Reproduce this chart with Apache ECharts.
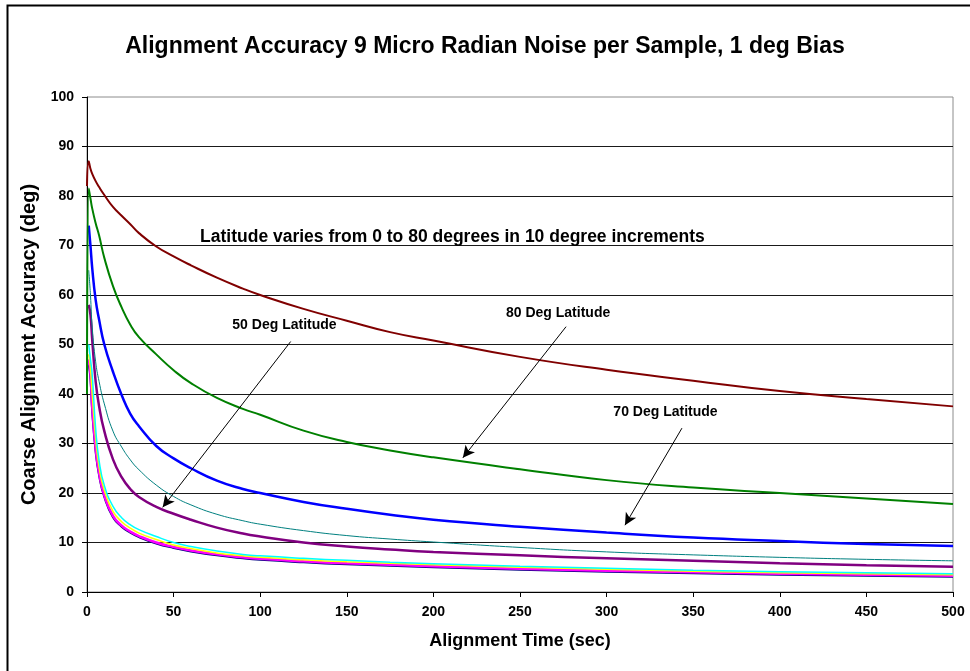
<!DOCTYPE html>
<html>
<head>
<meta charset="utf-8">
<script src="https://cdn.jsdelivr.net/npm/echarts@6/dist/echarts.min.js"></script>
<style>
html,body{margin:0;padding:0;background:#fff;}
#chart{width:970px;height:671px;}
</style>
</head>
<body>
<div id="chart"></div>
<script>
// Alignment time (sec)
const times = [1,2,3,5,7,10,15,20,25,30,40,50,60,75,90,100,125,150,175,200,250,300,350,400,450,500];

// Coarse alignment accuracy (deg) per latitude curve
const lat00 = [46,43,36.5,28.3,23.5,19.2,15.1,13.2,12,11.1,9.8,8.9,8.2,7.4,6.8,6.5,6.0,5.6,5.3,5.0,4.5,4.1,3.8,3.5,3.3,3.1];
const lat10 = [47,44,37.5,29,24,19.5,15.4,13.4,12.2,11.3,10,9.1,8.4,7.6,7.0,6.7,6.2,5.8,5.5,5.2,4.7,4.3,4.0,3.7,3.5,3.3];
const lat20 = [48,45,40,31,25.2,20.5,16.3,14.2,12.9,11.9,10.6,9.5,8.8,7.9,7.3,7.0,6.5,6.1,5.8,5.5,5.0,4.6,4.2,3.9,3.7,3.5];
const lat30 = [50,47,44,33,26.5,21.5,17.3,15,13.6,12.6,11.2,10,9.2,8.3,7.6,7.3,6.8,6.4,6.0,5.7,5.2,4.8,4.4,4.1,3.9,3.7];
const lat40 = [58,56,51,42.5,37.5,32.5,26.8,23.2,20.8,19.2,17.2,15.8,14.6,13,11.8,11.2,10,9.2,8.6,8.1,7.4,6.8,6.3,5.8,5.4,5.1];
const lat50 = [65,60,53.5,46.5,42.5,38,32.5,29.3,26.7,24.7,21.6,19.3,17.6,15.7,14.4,13.7,12.4,11.4,10.7,10.1,9.0,8.1,7.5,7.0,6.6,6.3];
const lat60 = [74,70,65.5,59,55,50,44.5,39.8,36,33.5,29.5,27,25,22.5,20.8,20,18.2,16.8,15.6,14.6,13.2,12,11,10.3,9.7,9.3];
const lat70 = [81.5,79.5,77.5,74.5,72,67.5,61.8,57.5,54,51.5,48,44.8,42.2,39.2,37,35.8,32.6,30.3,28.6,27.2,24.8,22.6,21.1,20,18.9,17.8];
const lat80 = [87,85.5,84.5,83,81.8,80.2,77.8,76,74.3,72.5,69.8,67.8,66,63.5,61.3,60,57.2,54.8,52.5,50.8,47.5,44.9,42.7,40.6,39,37.5];
// starting sample at t = 0 (only the two top curves show it)
const start70 = 40;
const start80 = 82;

const xTicks = [0,50,100,150,200,250,300,350,400,450,500];
const yTicks = [0,10,20,30,40,50,60,70,80,90,100];

const titleText = 'Alignment Accuracy 9 Micro Radian Noise per Sample, 1 deg Bias';
const xName = 'Alignment Time (sec)';
const yName = 'Coarse Alignment Accuracy (deg)';

const noteTexts = ['Latitude varies from 0 to 80 degrees in 10 degree increments','50 Deg Latitude','80 Deg Latitude','70 Deg Latitude'];
const notePos = [[211,71.7],[114,54],[272,56.4],[334,36.4]];
const arrowFrom = [[117.6,50.6],[276.6,53.6],[343.5,33.1]];
const arrowTo = [[43.7,17.1],[217,27.1],[310.6,13.5]];

function pts(vals, start){
  const out = [];
  if (start !== undefined) out.push([0, start]);
  times.forEach((t,i)=>out.push([t, vals[i]]));
  return out;
}

const curves = [
  {name:'0', data:pts(lat00), color:'#000080', width:2},
  {name:'10', data:pts(lat10), color:'#FF00FF', width:2.5},
  {name:'20', data:pts(lat20), color:'#FFFF00', width:1.5},
  {name:'30', data:pts(lat30), color:'#00FFFF', width:1.5},
  {name:'40', data:pts(lat40), color:'#800080', width:2.5},
  {name:'50', data:pts(lat50), color:'#008080', width:1},
  {name:'60', data:pts(lat60), color:'#0000FF', width:2.5},
  {name:'80', data:pts(lat80, start80), color:'#800000', width:2},
  {name:'70', data:pts(lat70, start70), color:'#008000', width:2}
];

const series = curves.map(c=>({
  type:'line', name:c.name, data:c.data, showSymbol:false, symbol:'none',
  smooth:0.5,
  lineStyle:{color:c.color, width:c.width}, itemStyle:{color:c.color},
  silent:true
}));

const sansFont = '"Liberation Sans", Arial, sans-serif';

series.push({
  type:'scatter', name:'notes', symbolSize:0, silent:true, z:10,
  itemStyle:{color:'#000', opacity:1},
  data: notePos.map((p,i)=>({
    value:p, name:noteTexts[i],
    label: {show:true, color:'#000', opacity:1, fontWeight:'bold', fontFamily:sansFont, fontSize: i===0 ? 17.5 : 14}
  })),
  label:{show:true, position:'inside', formatter:p=>p.name, color:'#000', fontWeight:'bold'},
  markLine:{
    silent:true, symbol:['none','arrow'], symbolSize:[9,12], animation:false,
    lineStyle:{color:'#000', width:1, type:'solid', opacity:1},
    label:{show:false},
    data: arrowFrom.map((f,i)=>[{coord:f},{coord:arrowTo[i]}])
  }
});

const splitColors = yTicks.map((v,i)=> i===yTicks.length-1 ? 'rgba(0,0,0,0)' : '#1a1a1a');

const chart = echarts.init(document.getElementById('chart'), null, {renderer:'canvas'});
chart.setOption({
  animation:false,
  backgroundColor:'#fff',
  title:{
    text:titleText, left:'center', top:30,
    textStyle:{fontFamily:sansFont, fontWeight:'bold', fontSize:23, color:'#000'}
  },
  grid:{left:87, right:17, top:97, bottom:79, show:true, borderColor:'#8c8c8c', borderWidth:1, backgroundColor:'transparent'},
  xAxis:{
    type:'value', min:xTicks[0], max:xTicks[xTicks.length-1], interval:50,
    name:xName, nameLocation:'middle', nameGap:40,
    nameTextStyle:{fontFamily:sansFont, fontWeight:'bold', fontSize:18, color:'#000'},
    axisLine:{show:true, onZero:false, lineStyle:{color:'#000', width:1}},
    axisTick:{show:true, inside:false, length:5, lineStyle:{color:'#000'}},
    axisLabel:{margin:13, fontFamily:sansFont, fontWeight:'bold', fontSize:14, color:'#000'},
    splitLine:{show:false}
  },
  yAxis:{
    type:'value', min:yTicks[0], max:yTicks[yTicks.length-1], interval:10,
    name:yName, nameLocation:'middle', nameGap:40, nameRotate:90,
    nameTextStyle:{fontFamily:sansFont, fontWeight:'bold', fontSize:20, color:'#000'},
    axisLine:{show:true, lineStyle:{color:'#000', width:1}},
    axisTick:{show:true, inside:false, length:5, lineStyle:{color:'#000'}},
    axisLabel:{margin:13, fontFamily:sansFont, fontWeight:'bold', fontSize:14, color:'#000'},
    splitLine:{show:true, lineStyle:{color:splitColors, width:1}}
  },
  graphic:[{
    type:'rect', left:5, top:3, silent:true,
    shape:{width:1200, height:1200},
    style:{fill:'none', stroke:'#000', lineWidth:2}
  }],
  series:series
});
</script>
</body>
</html>
